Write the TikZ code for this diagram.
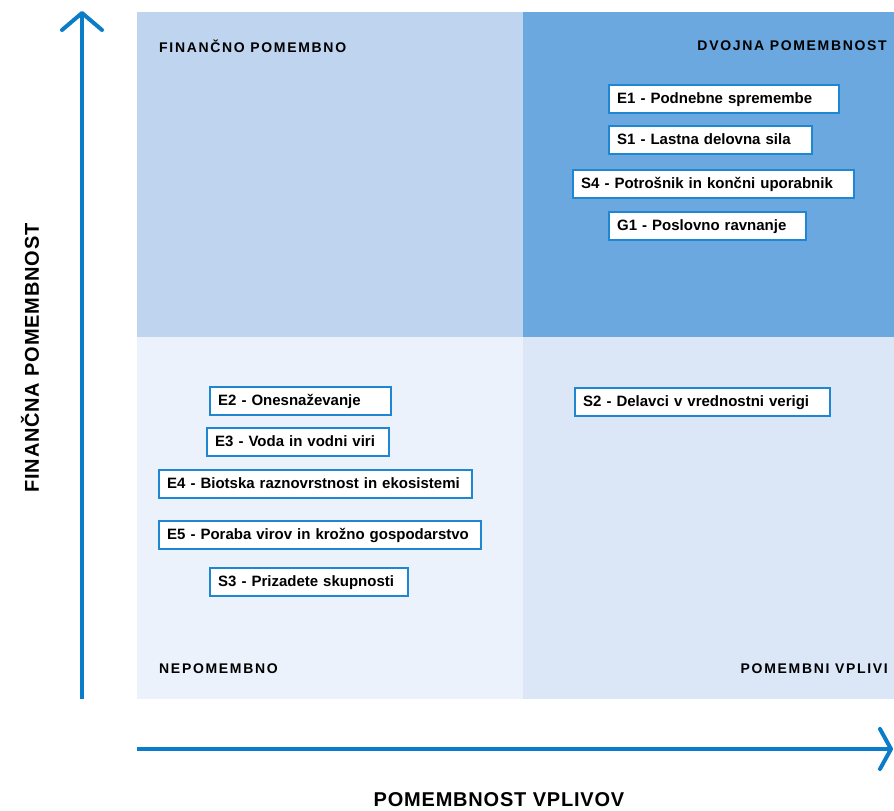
\documentclass[tikz,border=0pt]{standalone}
\usepackage{fontspec}
\setmainfont{Liberation Sans}
\newfontfamily\quadfont[LetterSpace=12]{Liberation Sans}
\newfontfamily\axisfont[LetterSpace=4]{Liberation Sans}
\definecolor{qtl}{HTML}{BED4EF}
\definecolor{qtr}{HTML}{6BA8DF}
\definecolor{qbl}{HTML}{EBF2FB}
\definecolor{qbr}{HTML}{DBE7F7}
\definecolor{axblue}{HTML}{0A7CC8}
\definecolor{boxblue}{HTML}{1F87D1}
\begin{document}
\begin{tikzpicture}[x=1pt,y=-1pt,
  item/.style={draw=boxblue, line width=2.4pt, fill=white, anchor=north west,
    inner xsep=8pt, inner ysep=0pt, minimum height=28pt, text width=#1, align=left,
    font=\bfseries\fontsize{15}{17}\selectfont, text height=11pt, text depth=3pt},
  quadlabel/.style={font=\quadfont\bfseries\fontsize{14}{16}\selectfont, inner sep=0pt},
  axislabel/.style={font=\axisfont\bfseries\fontsize{20}{22}\selectfont, inner sep=0pt},
  axisline/.style={draw=axblue, line width=4pt},
  axishead/.style={draw=axblue, line width=4pt, line cap=round, line join=round}]
\useasboundingbox (0,0) rectangle (894,811);
% quadrants
\fill[qtl] (137,12) rectangle (523,337);
\fill[qtr] (523,12) rectangle (894,337);
\fill[qbl] (137,337) rectangle (523,699);
\fill[qbr] (523,337) rectangle (894,699);
% axes
\coordinate (yb) at (82,699);
\coordinate (yt) at (82,13);
\coordinate (yl) at (62,30);
\coordinate (yr) at (102,30);
\coordinate (xl) at (137,749);
\coordinate (xr) at (891,749);
\coordinate (xu) at (880,729);
\coordinate (xd) at (880,769);
\draw[axisline] (yb) -- (yt);
\draw[axishead] (yl) -- (yt) -- (yr);
\draw[axisline] (xl) -- (xr);
\draw[axishead] (xu) -- (xr) -- (xd);
% axis labels
\node[axislabel] (xlab) at (499,800) {POMEMBNOST VPLIVOV};
\node[axislabel, rotate=90] (ylab) at (30,358) {FINANČNA POMEMBNOST};
% quadrant labels
\node[quadlabel, anchor=west] (q1) at (159,46) {FINANČNO POMEMBNO};
\node[quadlabel, anchor=east] (q2) at (887,46) {DVOJNA POMEMBNOST};
\node[quadlabel, anchor=west] (q3) at (159,669) {NEPOMEMBNO};
\node[quadlabel, anchor=east] (q4) at (888,669) {POMEMBNI VPLIVI};
% items
\node[item=214pt] (e1) at (608,84) {E1 - Podnebne spremembe};
\node[item=187pt] (s1) at (608,125) {S1 - Lastna delovna sila};
\node[item=265pt] (s4) at (572,169) {S4 - Potrošnik in končni uporabnik};
\node[item=181pt] (g1) at (608,211) {G1 - Poslovno ravnanje};
\node[item=239pt] (s2) at (574,387) {S2 - Delavci v vrednostni verigi};
\node[item=165pt] (e2) at (209,386) {E2 - Onesnaževanje};
\node[item=166pt] (e3) at (206,427) {E3 - Voda in vodni viri};
\node[item=297pt] (e4) at (158,469) {E4 - Biotska raznovrstnost in ekosistemi};
\node[item=306pt] (e5) at (158,520) {E5 - Poraba virov in krožno gospodarstvo};
\node[item=182pt] (s3) at (209,567) {S3 - Prizadete skupnosti};
\end{tikzpicture}
\end{document}
